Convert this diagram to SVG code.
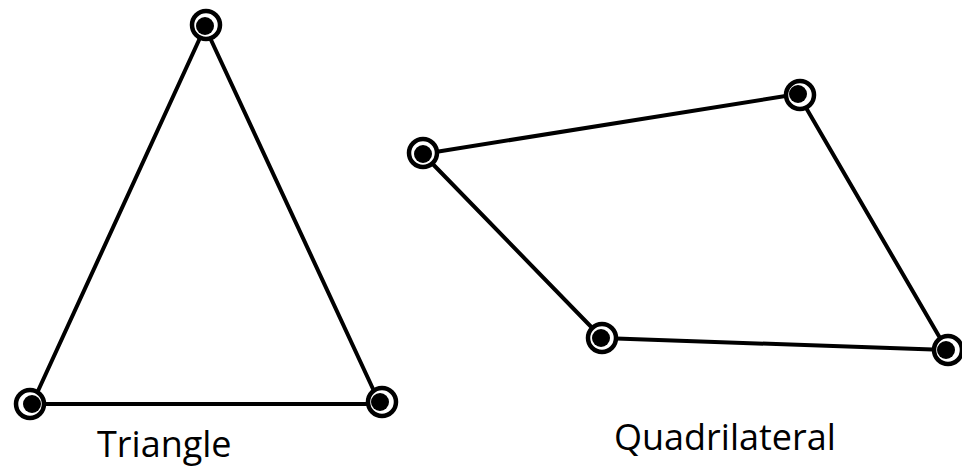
<svg xmlns="http://www.w3.org/2000/svg" width="962" height="468" viewBox="0 0 962 468">
<style>
.edge{stroke:#000;stroke-width:4;fill:none;stroke-linejoin:round}
.ring{fill:#fff;stroke:#000;stroke-width:4.5}
.dot{fill:#000}
.label{font-family:"Open Sans","Liberation Sans",sans-serif;font-size:36px;fill:#000}
</style>
<rect width="962" height="468" fill="#fff"/>
<g id="connectors">
<polygon class="edge" points="205,27 32,404 380,404"/>
<polygon class="edge" points="423,154 798,94 947,350 602,338"/>
</g>
<g id="t1"><circle class="ring" cx="206" cy="25" r="14"/><circle class="dot" cx="205" cy="26" r="9"/></g>
<g id="t2"><circle class="ring" cx="30" cy="404" r="14"/><circle class="dot" cx="32" cy="404" r="9"/></g>
<g id="t3"><circle class="ring" cx="382" cy="402" r="14"/><circle class="dot" cx="380" cy="402" r="9"/></g>
<g id="q1"><circle class="ring" cx="423" cy="153" r="14"/><circle class="dot" cx="423" cy="154" r="9"/></g>
<g id="q2"><circle class="ring" cx="800" cy="95" r="14"/><circle class="dot" cx="798" cy="94" r="9"/></g>
<g id="q3"><circle class="ring" cx="948" cy="350" r="14"/><circle class="dot" cx="946" cy="350" r="9"/></g>
<g id="q4"><circle class="ring" cx="602" cy="338" r="14"/><circle class="dot" cx="601" cy="338" r="9"/></g>
<text class="label" x="97" y="457">Triangle</text>
<text class="label" x="614" y="450">Quadrilateral</text>
</svg>
